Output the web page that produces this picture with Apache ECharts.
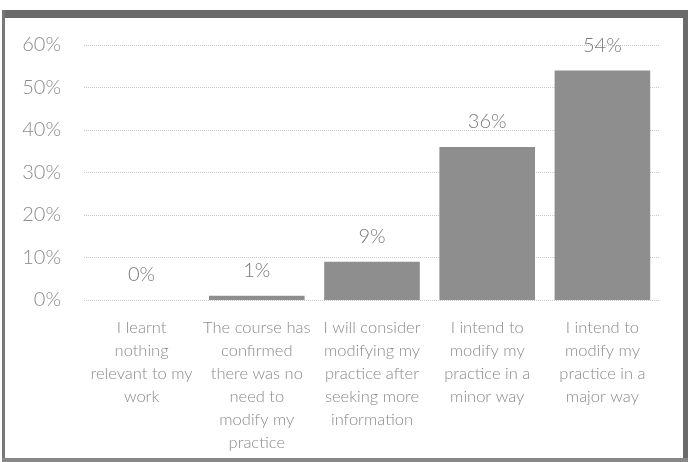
<!DOCTYPE html>
<html>
<head>
<meta charset="utf-8">
<script src="https://cdn.jsdelivr.net/npm/echarts@6/dist/echarts.min.js"></script>
<style>
html,body{margin:0;padding:0;background:#fff;}
#chart{width:688px;height:462px;}
</style>
</head>
<body>
<div id="chart"></div>
<script>
const categories = [
  "I learnt\nnothing\nrelevant to my\nwork",
  "The course has\nconfirmed\nthere was no\nneed to\nmodify my\npractice",
  "I will consider\nmodifying my\npractice after\nseeking more\ninformation",
  "I intend to\nmodify my\npractice in a\nminor way",
  "I intend to\nmodify my\npractice in a\nmajor way"
];
const values = [0, 1, 9, 36, 54];
const yTicks = [0, 10, 20, 30, 40, 50, 60];

const chart = echarts.init(document.getElementById('chart'), null, {renderer: 'canvas'});
const fontFam = 'Lato, "Open Sans", sans-serif';
chart.setOption({
  backgroundColor: '#fff',
  animation: false,
  graphic: [
    {type: 'rect', shape: {x: 2, y: 10, width: 686, height: 8}, style: {fill: '#6a6a6a'}},
    {type: 'rect', shape: {x: 2, y: 10, width: 3, height: 452}, style: {fill: '#777'}},
    {type: 'rect', shape: {x: 683, y: 10, width: 5, height: 452}, style: {fill: '#6a6a6a'}},
    {type: 'rect', shape: {x: 2, y: 458, width: 686, height: 4}, style: {fill: '#888'}}
  ],
  grid: {left: 84, right: 28, top: 45, bottom: 162},
  xAxis: {
    type: 'category',
    data: categories,
    axisLine: {show: false},
    axisTick: {show: false},
    axisLabel: {
      interval: 0,
      margin: 16,
      color: '#8a8a8a',
      fontFamily: fontFam,
      fontWeight: 300,
      fontSize: 16.5,
      lineHeight: 23,
      align: 'center',
      verticalAlign: 'top'
    }
  },
  yAxis: {
    type: 'value',
    min: yTicks[0],
    max: yTicks[yTicks.length - 1],
    interval: 10,
    axisLine: {show: false},
    axisTick: {show: false},
    splitLine: {lineStyle: {color: '#c8c8c8', type: 'dotted', width: 1}},
    axisLabel: {
      margin: 23,
      color: '#8a8a8a',
      fontFamily: fontFam,
      fontWeight: 300,
      fontSize: 20,
      formatter: v => v + '%'
    }
  },
  series: [{
    type: 'bar',
    data: values,
    barCategoryGap: '17%',
    itemStyle: {color: '#8e8e8e'},
    label: {
      show: true,
      position: 'top',
      distance: 15,
      color: '#7a7a7a',
      fontFamily: fontFam,
      fontWeight: 300,
      fontSize: 20,
      formatter: p => p.value + '%'
    }
  }]
});
</script>
</body>
</html>
